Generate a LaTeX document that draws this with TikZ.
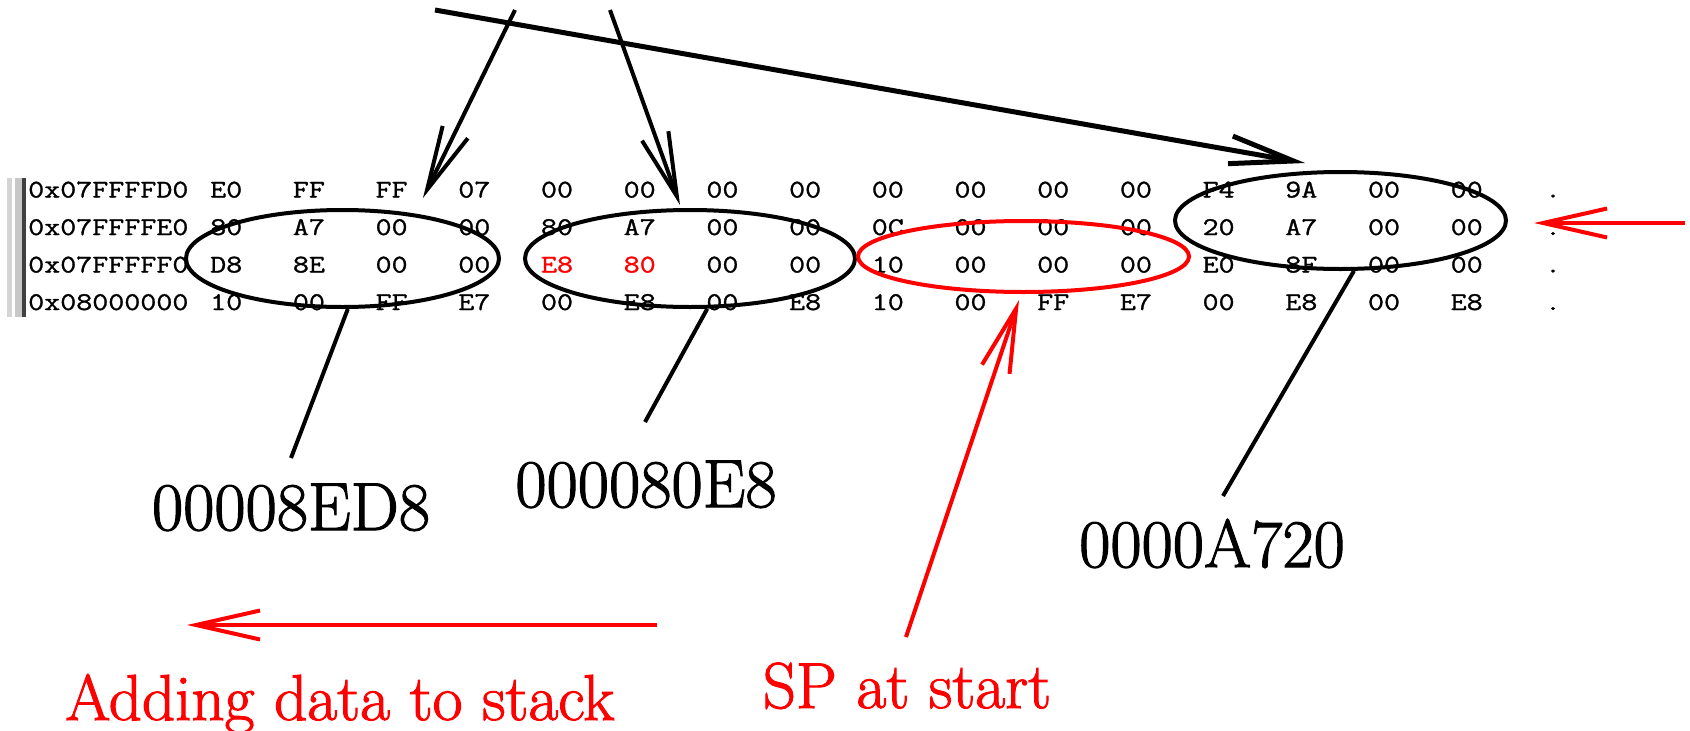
\documentclass[tikz,border=0pt]{standalone}
\usepackage{fontspec}
\newfontfamily\hexfont{Latin Modern Mono}[FakeStretch=1.22,FakeBold=1.2]
\newfontfamily\lblfont{Latin Modern Roman}[FakeBold=1.6]
\usetikzlibrary{arrows.meta,shapes.geometric}
\newcommand\redhex{\color{red}}
\begin{document}
\begin{tikzpicture}[x=1pt,y=-1pt,
  hex/.style={anchor=base west,inner sep=0pt,font=\hexfont\fontsize{25.5}{25.5}\selectfont},
  dotc/.style={anchor=base,inner sep=0pt,font=\hexfont\fontsize{25.5}{25.5}\selectfont},
  biglbl/.style={anchor=base,inner sep=0pt,font=\lblfont\fontsize{68}{68}\selectfont},
  redlbl/.style={anchor=base,inner sep=0pt,text=red,font=\lblfont\fontsize{65}{65}\selectfont},
  oval/.style={ellipse,draw,line width=4pt,inner sep=0pt},
  conn/.style={line width=4pt},
  blkarrow/.style={line width=4pt,-{Straight Barb[length=64pt,width=28pt]}},
  redarrow/.style={line width=4pt,red,-{Straight Barb[length=64pt,width=29pt]}}
]
\useasboundingbox (0,0) rectangle (1690,731);
\fill[white] (0,0) rectangle (1690,731);

% side bar
\fill[black!17] (7,178) rectangle (12,317);
\fill[black!22] (15,178) rectangle (22,317);
\fill[black!75] (22,178) rectangle (26,317);

% hex dump
\node[hex] (ad0) at (28,197.5) {0x07FFFFD0};
\node[hex] (ad1) at (28,235) {0x07FFFFE0};
\node[hex] (ad2) at (28,272.5) {0x07FFFFF0};
\node[hex] (ad3) at (28,310) {0x08000000};
\foreach \v [count=\i from 0] in {E0,FF,FF,07,00,00,00,00,00,00,00,00,F4,9A,00,00}
  \node[hex] (ra\i) at ({210+82.7*\i},197.5) {\v};
\foreach \v [count=\i from 0] in {80,A7,00,00,80,A7,00,00,0C,00,00,00,20,A7,00,00}
  \node[hex] (rb\i) at ({210+82.7*\i},235) {\v};
\foreach \v [count=\i from 0] in {D8,8E,00,00,\redhex E8,\redhex 80,00,00,10,00,00,00,E0,8F,00,00}
  \node[hex] (rc\i) at ({210+82.7*\i},272.5) {\v};
\foreach \v [count=\i from 0] in {10,00,FF,E7,00,E8,00,E8,10,00,FF,E7,00,E8,00,E8}
  \node[hex] (rd\i) at ({210+82.7*\i},310) {\v};
\node[dotc] (da) at (1553,197.5) {.};
\node[dotc] (db) at (1553,235) {.};
\node[dotc] (dc) at (1553,272.5) {.};
\node[dotc] (dd) at (1553,310) {.};

% ellipses
\node[oval,minimum width=313pt,minimum height=97pt] (e1) at (342.5,258.5) {};
\node[oval,minimum width=330pt,minimum height=97pt] (e2) at (690,258.5) {};
\node[oval,red,minimum width=331pt,minimum height=71pt] (e3) at (1023.5,256.5) {};
\node[oval,minimum width=331pt,minimum height=97pt] (e4) at (1340.5,220.5) {};

% labels
\node[biglbl] (l1) at (291,530) {00008ED8};
\node[biglbl] (l2) at (646,507) {000080E8};
\node[biglbl] (l4) at (1212,567) {0000A720};
\node[redlbl] (sp) at (907,708) {SP at start};
\node[redlbl] (add) at (340,720) {Adding data to stack};

% connector ends
\coordinate (c1) at (291,458);
\coordinate (c2) at (645,422);
\coordinate (c4) at (1223,496);
\draw[conn] (e1.-84) -- (c1);
\draw[conn] (e2.-71) -- (c2);
\draw[conn] (e4.-75.5) -- (c4);

% top black arrows
\coordinate (s1) at (515,10);
\coordinate (t1) at (423,198);
\coordinate (s2) at (610,10);
\coordinate (t2) at (680,205);
\coordinate (s3) at (435,10);
\coordinate (t3) at (1305,163);
\draw[blkarrow] (s1) -- (t1);
\draw[blkarrow] (s2) -- (t2);
\draw[blkarrow,line width=5pt] (s3) -- (t3);

% red arrows
\coordinate (rs1) at (1685,223);
\coordinate (rt1) at (1534,223);
\coordinate (rs2) at (657,625);
\coordinate (rt2) at (187,625);
\coordinate (rs3) at (906,637);
\coordinate (rt3) at (1019,300);
\draw[redarrow] (rs1) -- (rt1);
\draw[redarrow] (rs2) -- (rt2);
\draw[redarrow] (rs3) -- (rt3);
\end{tikzpicture}
\end{document}
